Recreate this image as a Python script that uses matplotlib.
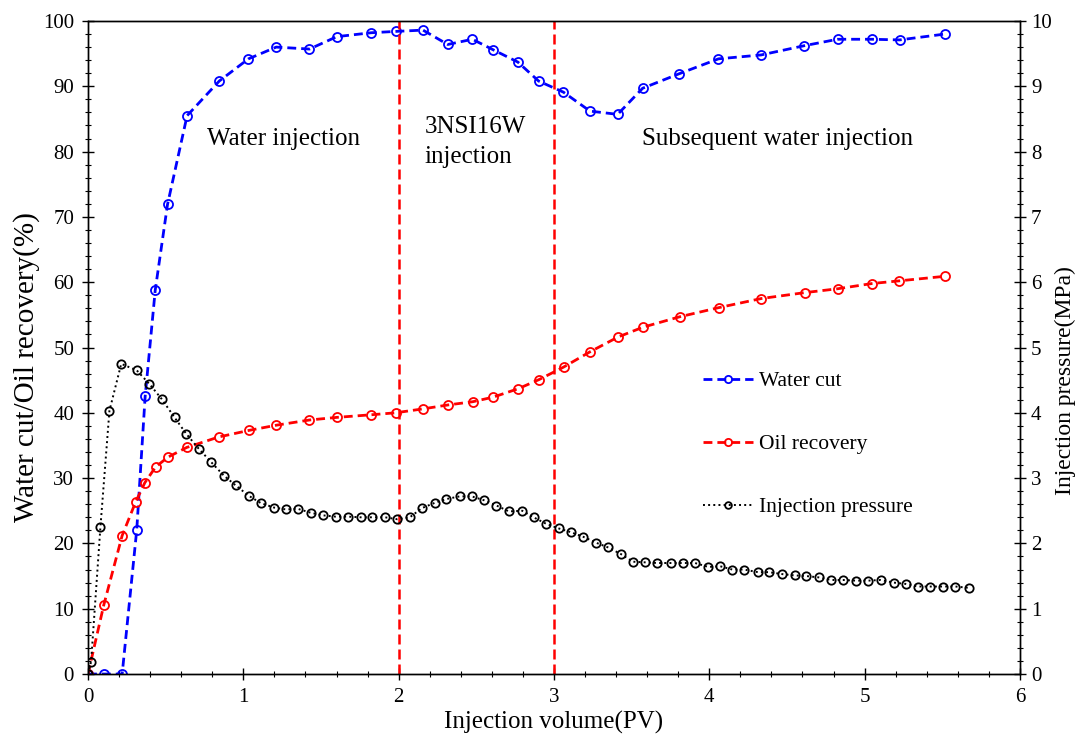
import matplotlib
matplotlib.use("Agg")
import matplotlib.pyplot as plt  # noqa: E402
from matplotlib.ticker import MultipleLocator  # noqa: E402

plt.rcParams["font.family"] = ["Liberation Serif", "DejaVu Serif"]

# Water cut (%)
wc_pv = [0.0, 0.106, 0.22, 0.314, 0.368, 0.433, 0.512, 0.638, 0.845, 1.033,
         1.212, 1.426, 1.602, 1.824, 1.98, 2.157, 2.316, 2.475, 2.608, 2.768,
         2.901, 3.061, 3.232, 3.41, 3.571, 3.804, 4.059, 4.334, 4.609, 4.826,
         5.047, 5.225, 5.518]
wc = [0.0, 0.0, 0.0, 22.1, 42.5, 58.8, 71.9, 85.5, 90.8, 94.2,
      96.0, 95.7, 97.6, 98.2, 98.4, 98.6, 96.4, 97.2, 95.6, 93.7,
      90.8, 89.1, 86.2, 85.7, 89.7, 91.9, 94.2, 94.8, 96.2, 97.2,
      97.2, 97.1, 98.0]

# Oil recovery (%)
or_pv = [0.0, 0.102, 0.22, 0.306, 0.366, 0.435, 0.514, 0.636, 0.842, 1.035,
         1.212, 1.426, 1.602, 1.824, 1.98, 2.156, 2.317, 2.478, 2.609, 2.771,
         2.905, 3.062, 3.229, 3.412, 3.572, 3.809, 4.06, 4.335, 4.614, 4.828,
         5.049, 5.221, 5.515]
oil = [0.0, 10.6, 21.2, 26.3, 29.3, 31.7, 33.2, 34.7, 36.3, 37.3,
       38.1, 38.9, 39.3, 39.7, 40.0, 40.6, 41.2, 41.7, 42.4, 43.7,
       45.1, 47.0, 49.3, 51.6, 53.1, 54.7, 56.1, 57.5, 58.4, 59.0,
       59.8, 60.2, 60.9]

# Injection pressure (MPa)
ip_pv = [0.0, 0.02, 0.08, 0.138, 0.214, 0.314, 0.396, 0.475, 0.557, 0.632,
         0.713, 0.795, 0.874, 0.95, 1.035, 1.111, 1.196, 1.276, 1.351, 1.433,
         1.512, 1.594, 1.673, 1.755, 1.83, 1.912, 1.992, 2.072, 2.149, 2.231,
         2.308, 2.392, 2.471, 2.551, 2.63, 2.71, 2.796, 2.869, 2.95, 3.03,
         3.111, 3.19, 3.272, 3.347, 3.429, 3.508, 3.588, 3.665, 3.751, 3.83,
         3.908, 3.994, 4.071, 4.148, 4.223, 4.313, 4.384, 4.47, 4.549, 4.625,
         4.704, 4.786, 4.86, 4.947, 5.021, 5.103, 5.187, 5.264, 5.343, 5.423,
         5.504, 5.584, 5.672]
ip = [0.0, 0.19, 2.25, 4.03, 4.75, 4.65, 4.44, 4.21, 3.93, 3.68,
      3.45, 3.24, 3.04, 2.89, 2.73, 2.62, 2.55, 2.52, 2.53, 2.47,
      2.43, 2.41, 2.41, 2.40, 2.40, 2.40, 2.37, 2.40, 2.54, 2.62,
      2.68, 2.72, 2.72, 2.66, 2.58, 2.49, 2.50, 2.40, 2.30, 2.23,
      2.17, 2.10, 2.01, 1.94, 1.84, 1.72, 1.71, 1.70, 1.70, 1.70,
      1.70, 1.64, 1.65, 1.60, 1.60, 1.56, 1.56, 1.53, 1.51, 1.50,
      1.48, 1.44, 1.44, 1.43, 1.43, 1.44, 1.40, 1.38, 1.34, 1.34,
      1.34, 1.34, 1.32]

stage_bounds = [2, 3]

fig = plt.figure(figsize=(10.77, 7.36), dpi=100)
ax = fig.add_axes([0.0817, 0.0842, 0.8653, 0.8873])
ax2 = ax.twinx()

mk = dict(marker="o", mfc="none", ms=6.5, mew=1.3)
l1, = ax.plot(wc_pv, wc, color="#0000ff", lw=2.0, dashes=(3.2, 1.8),
              label="Water cut", **mk)
l2, = ax.plot(or_pv, oil, color="#ff0000", lw=2.0, dashes=(3.2, 1.8),
              label="Oil recovery", **mk)
for xb in stage_bounds:
    ax.plot([xb, xb], [0, 100], color="#ff0000", lw=1.8, dashes=(4, 2))
l3, = ax2.plot(ip_pv, ip, color="black", lw=1.4, ls=":",
               label="Injection pressure", marker="o", mfc="none",
               ms=6, mew=1.3)

ax.set_xlim(0, 6)
ax.set_ylim(0, 100)
ax2.set_ylim(0, 10)
ax.xaxis.set_major_locator(MultipleLocator(1))
ax.xaxis.set_minor_locator(MultipleLocator(0.2))
ax.yaxis.set_major_locator(MultipleLocator(10))
ax.yaxis.set_minor_locator(MultipleLocator(2))
ax2.yaxis.set_major_locator(MultipleLocator(1))
ax2.yaxis.set_minor_locator(MultipleLocator(0.2))

for a in (ax, ax2):
    a.tick_params(which="major", direction="inout", length=8, width=1,
                  labelsize=15)
    a.tick_params(which="minor", direction="inout", length=5, width=0.8)
    for s in a.spines.values():
        s.set_linewidth(1.0)
ax.tick_params(axis="y", pad=6)
ax.tick_params(axis="x", pad=6)
ax2.tick_params(axis="y", pad=4)

ax.set_xlabel("Injection volume(PV)", fontsize=18, labelpad=3)
ax.set_ylabel("Water cut/Oil recovery(%)", fontsize=21, labelpad=2, y=0.47)
ax2.set_ylabel("Injection pressure(MPa)", fontsize=17, labelpad=2, y=0.45)

ax.text(0.764, 82, "Water injection", fontsize=18, va="center", ha="left")
ax.text(2.167, 81.5, "3NSI16W\ninjection", fontsize=18, va="center",
        ha="left", linespacing=1.5)
ax.text(3.565, 82, "Subsequent water injection", fontsize=18, va="center",
        ha="left")

ax2.legend(handles=[l1, l2, l3], loc="center left",
           bbox_to_anchor=(0.651, 0.352), frameon=False, fontsize=15.5,
           handlelength=2.3, handletextpad=0.3, labelspacing=2.0,
           borderaxespad=0, markerscale=0.8)

fig.savefig("out.png", dpi=100)
